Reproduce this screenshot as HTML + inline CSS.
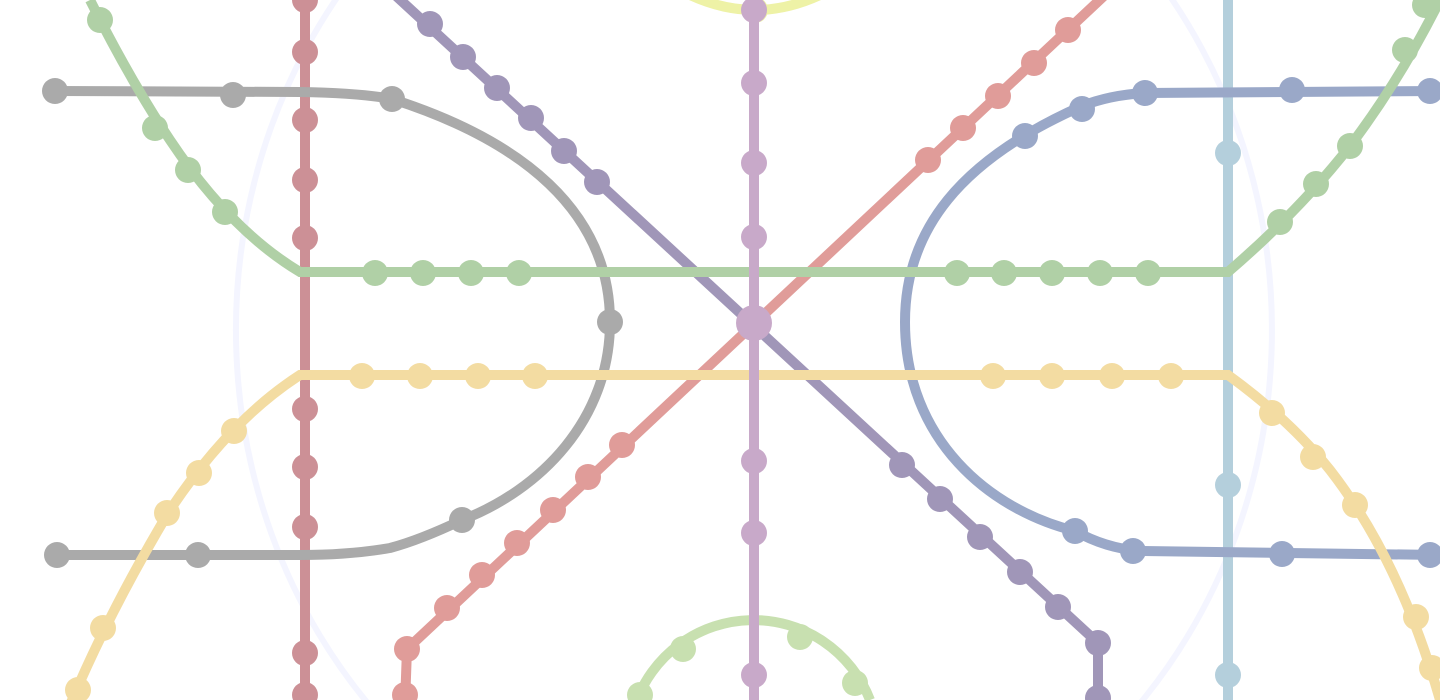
<!DOCTYPE html>
<html><head><meta charset="utf-8"><style>
html,body{margin:0;padding:0;background:#fff;width:1440px;height:700px;overflow:hidden;font-family:"Liberation Sans",sans-serif}
svg{display:block;overflow:hidden}
</style></head><body>
<svg id="chart" width="1440" height="700" viewBox="0 0 1440 700" xmlns="http://www.w3.org/2000/svg"></svg>
<script>
const lineNames=['outer-ring','top-arc','bottom-arc','red-vertical','blue-vertical','gray-d','blue-d','green-line','yellow-line','purple-diagonal','red-diagonal','purple-vertical'];
const lineColors=['#f4f5ff','#eef2a6','#c8e0b0','#cc9096','#b4cfdc','#aaaaaa','#9aa8c8','#b0d0a6','#f3dca2','#a096b8','#e09c99','#c8a9c9'];
const linePaths=[
 'M754,-230 A518,560 0 1 1 753.9,-230',
 'M680,-10 Q755,30 830,-10',
 'M635,705 A125,125 0 0 1 870,700',
 'M305,-10 L305,710',
 'M1228,-10 L1228,710',
 'M55,91 L300,92 Q360,93 392,99 C520,140 610,210 610,322 C610,420 540,490 462,520 Q420,540 390,548 Q350,555 300,555 L57,555',
 'M1440,91 L1145,93 Q1110,95 1082,106 C960,160 905,230 905,322 C905,440 990,510 1075,531 Q1105,548 1140,551 L1440,555',
 'M90,0 Q130,80 170,140 Q230,230 300,272 L1228,272 Q1300,210 1350,146 Q1400,80 1440,0',
 'M70,705 Q110,610 170,510 Q230,420 300,375 L1228,375 Q1290,420 1330,470 Q1400,560 1440,700',
 'M395,-5 L1098,643 L1098,705',
 'M1105,-5 L407,649 L405,705',
 'M754,-10 L754,710'
];
const stations=[
 [],[[755,10]],
 [[640,695],[683,649],[800,637],[855,683]],
 [[305,0],[305,52],[305,120],[305,180],[305,238],[305,409],[305,467],[305,527],[305,653],[305,695]],
 [[1228,153],[1228,485],[1228,675]],
 [[55,91],[233,95],[392,99],[610,322],[462,520],[198,555],[57,555]],
 [[1430,91],[1292,90],[1145,93],[1082,109],[1025,136],[1075,531],[1133,551],[1282,554],[1430,555]],
 [[100,20],[155,128],[188,170],[225,212],[375,273],[423,273],[471,273],[519,273],[957,273],[1004,273],[1052,273],[1100,273],[1148,273],[1280,222],[1316,184],[1350,146],[1405,50],[1425,5]],
 [[78,690],[103,628],[167,513],[199,473],[234,431],[362,376],[420,376],[478,376],[535,376],[993,376],[1052,376],[1112,376],[1171,376],[1272,413],[1313,457],[1355,505],[1416,617],[1432,668]],
 [[430,24],[463,57],[497,88],[531,118],[564,151],[597,182],[902,465],[940,499],[980,537],[1020,572],[1058,607],[1098,643],[1098,698]],
 [[1068,30],[1034,63],[998,96],[963,128],[928,160],[622,445],[588,477],[553,510],[517,543],[482,575],[447,608],[407,649],[405,695]],
 [[754,10],[754,83],[754,163],[754,237],[754,461],[754,533],[754,675]]
];
const hubStations=[[754,323]];
const NS='http://www.w3.org/2000/svg';
const svg=document.getElementById('chart');
const order=[0,1,2,9,10,3,4,5,6,7,8,11];
order.forEach(i=>{
 const g=document.createElementNS(NS,'g');
 
 
 const p=document.createElementNS(NS,'path');
 p.setAttribute('d',linePaths[i]);p.setAttribute('fill','none');
 p.setAttribute('stroke',lineColors[i]);p.setAttribute('stroke-width',i===0?6:10);
 
 
 g.appendChild(p);
 stations[i].forEach(s=>{
  const c=document.createElementNS(NS,'circle');
  c.setAttribute('cx',s[0]);c.setAttribute('cy',s[1]);c.setAttribute('r',13);c.setAttribute('fill',lineColors[i]);
  
  
  g.appendChild(c);
 });
 svg.appendChild(g);
});
hubStations.forEach(s=>{
 const c=document.createElementNS(NS,'circle');
 c.setAttribute('cx',s[0]);c.setAttribute('cy',s[1]);c.setAttribute('r',18);c.setAttribute('fill','#c8a9c9');
 
 
 svg.appendChild(c);
});
</script>
</body></html>
